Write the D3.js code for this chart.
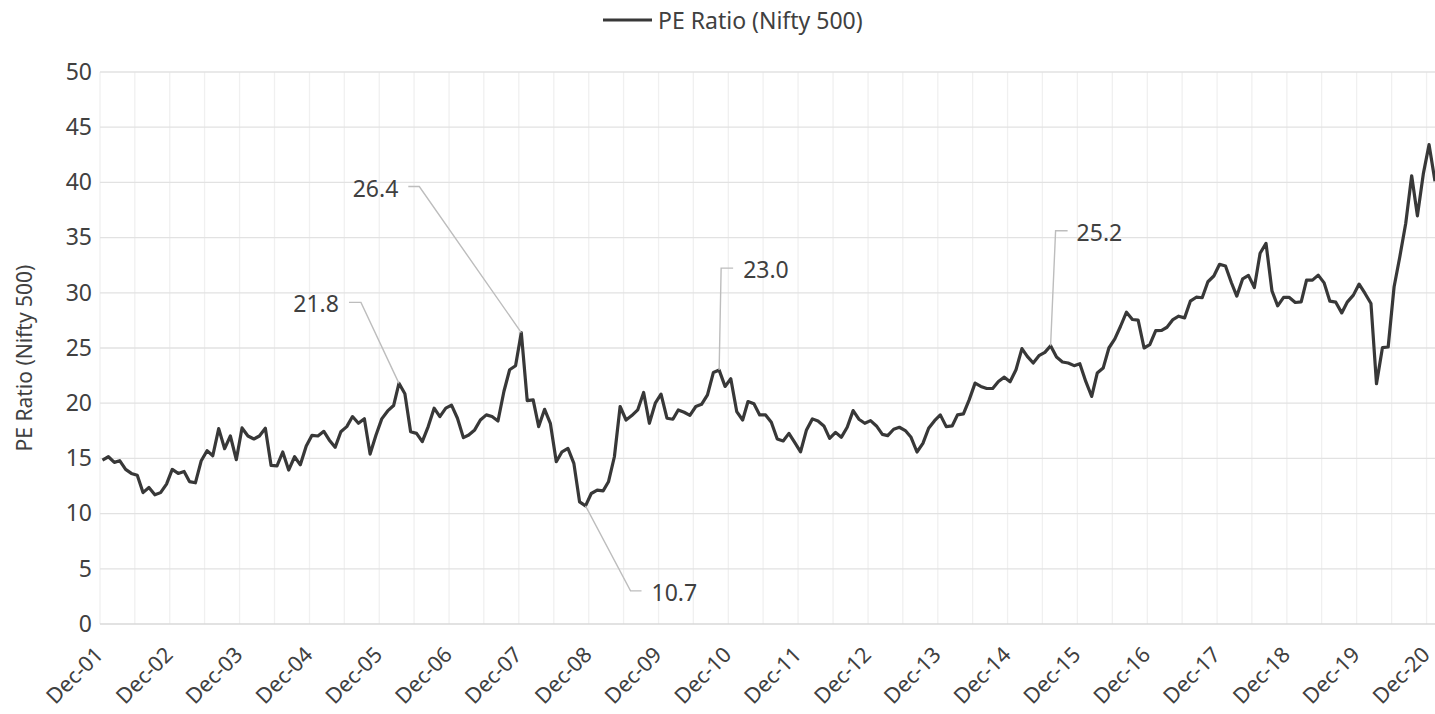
<!DOCTYPE html>
<html>
<head>
<meta charset="utf-8">
<script src="https://cdn.jsdelivr.net/npm/d3@7"></script>
<style>
  html, body { margin: 0; padding: 0; background: #ffffff; }
  svg { display: block; }
  text { font-family: "Noto Sans", "Open Sans", sans-serif; fill: #404040; }
</style>
</head>
<body>
<svg id="chart" width="1435" height="714"></svg>
<script>
// ---------------- data ----------------
const seriesName = "PE Ratio (Nifty 500)";
const firstMonth = { year: 2001, month: 11 }; // Dec-2001 (month index 0-based)
// monthly PE values, Dec-01 .. Jan-21
const peValues = [
  14.85, 15.15, 14.64, 14.79, 14.0, 13.64, 13.48, 11.9, 12.36, 11.7,
  11.9, 12.67, 14.0, 13.64, 13.82, 12.9, 12.79, 14.76, 15.7, 15.24,
  17.7, 15.88, 17.03, 14.88, 17.76, 17.03, 16.76, 17.03, 17.73, 14.36,
  14.33, 15.58, 13.94, 15.15, 14.42, 16.12, 17.09, 17.03, 17.45, 16.67,
  16.0, 17.42, 17.88, 18.79, 18.18, 18.6, 15.39, 17.12, 18.58, 19.3,
  19.79, 21.8, 20.85, 17.42, 17.27, 16.52, 17.88, 19.55, 18.79, 19.55,
  19.82, 18.64, 16.88, 17.12, 17.58, 18.48, 18.94, 18.79, 18.39, 21.06,
  23.03, 23.39, 26.4, 20.24, 20.3, 17.88, 19.45, 18.18, 14.7,
  15.6, 15.9, 14.55, 11.06, 10.7, 11.82, 12.12, 12.06, 12.88, 15.15,
  19.7, 18.48, 18.88, 19.39, 20.97, 18.18, 20.0, 20.82, 18.64, 18.55,
  19.39, 19.18, 18.9, 19.7, 19.9, 20.76, 22.79, 23.0, 21.52, 22.21,
  19.24, 18.48, 20.15, 19.94, 18.94, 18.94, 18.27, 16.76, 16.58, 17.27,
  16.42, 15.6, 17.58, 18.58, 18.39, 17.94, 16.82, 17.36, 16.91, 17.82,
  19.33, 18.55, 18.18, 18.42, 17.94, 17.18, 17.06, 17.64, 17.82, 17.52,
  16.91, 15.58, 16.36, 17.73, 18.42, 18.94, 17.88, 17.94, 18.94, 19.03,
  20.3, 21.82, 21.52, 21.33, 21.33, 21.97, 22.36, 21.94, 23.03,
  24.94, 24.24, 23.64, 24.3, 24.6, 25.2, 24.18, 23.73, 23.64, 23.4,
  23.58, 21.97, 20.61, 22.73, 23.18, 25.0, 25.82, 26.97, 28.24, 27.58,
  27.52, 25.0, 25.3, 26.58, 26.6, 26.88, 27.58, 27.88, 27.73, 29.24,
  29.6, 29.55, 31.0, 31.52, 32.58, 32.42, 30.91, 29.7, 31.27, 31.58,
  30.48, 33.58, 34.48, 30.18, 28.82, 29.58, 29.58, 29.12, 29.18, 31.15,
  31.15, 31.6, 30.9, 29.24, 29.15, 28.18, 29.18, 29.79, 30.79, 29.94,
  29.03, 21.76, 25.03, 25.09, 30.55, 33.27, 36.3, 40.6, 36.97, 40.79,
  43.42, 40.1
];
const xTickLabels = ["Dec-01","Dec-02","Dec-03","Dec-04","Dec-05","Dec-06","Dec-07","Dec-08","Dec-09","Dec-10",
                     "Dec-11","Dec-12","Dec-13","Dec-14","Dec-15","Dec-16","Dec-17","Dec-18","Dec-19","Dec-20"];
const yTicks = [0, 5, 10, 15, 20, 25, 30, 35, 40, 45, 50];
// annotated points (month index from Dec-01) and their labels
const annotIndex = [51, 72, 83, 106, 163];
const annotText  = ["21.8", "26.4", "10.7", "23.0", "25.2"];

// ---------------- layout ----------------
const plot = { left: 100, right: 1435, top: 72, bottom: 624 };
const svg = d3.select("#chart");

const monthDate = i => new Date(firstMonth.year, firstMonth.month + i, 14);
const tickDate = i => new Date(firstMonth.year + i, firstMonth.month, 1);

const x = d3.scaleTime()
  .domain([new Date(2001, 11, 1), new Date(2021, 0, 14)])
  .range([plot.left, plot.right]);
const y = d3.scaleLinear().domain([0, 50]).range([plot.bottom, plot.top]);

// vertical gridlines every 6 months (Dec and Jun)
const gridDates = d3.range(0, 39).map(k => new Date(firstMonth.year, firstMonth.month + 6 * k, 1));
svg.append("g").selectAll("line").data(gridDates).join("line")
  .attr("x1", d => x(d)).attr("x2", d => x(d))
  .attr("y1", plot.top).attr("y2", plot.bottom)
  .attr("stroke", "#f0f0f0").attr("stroke-width", 1.3);

// horizontal gridlines
svg.append("g").selectAll("line").data(yTicks).join("line")
  .attr("x1", plot.left).attr("x2", plot.right)
  .attr("y1", d => y(d)).attr("y2", d => y(d))
  .attr("stroke", d => d === 0 ? "#d9d9d9" : "#e2e2e2").attr("stroke-width", 1.3);

// y axis labels
const yAxis = d3.axisLeft(y).tickValues(yTicks).tickSize(0).tickPadding(8);
const gy = svg.append("g").attr("transform", `translate(${plot.left},0)`).call(yAxis);
gy.select(".domain").remove();
gy.selectAll("text").style("font-size", "23px").style("font-family", "Noto Sans").attr("fill", "#404040");

// x axis labels
const xAxis = d3.axisBottom(x)
  .tickValues(xTickLabels.map((_, i) => tickDate(i)))
  .tickFormat((d, i) => xTickLabels[i]).tickSize(0);
const gx = svg.append("g").attr("transform", `translate(0,${plot.bottom})`).call(xAxis);
gx.select(".domain").remove();
gx.selectAll("text")
  .style("font-size", "21.5px").style("font-family", "Noto Sans").attr("fill", "#404040")
  .attr("text-anchor", "end")
  .attr("y", 0).attr("dy", "0")
  .attr("transform", "translate(4,32) rotate(-45)");

// line
const pts = peValues.map((v, i) => ({ d: monthDate(i), v }));
const line = d3.line().x(p => x(p.d)).y(p => y(p.v));
svg.append("path").datum(pts)
  .attr("d", line).attr("fill", "none")
  .attr("stroke", "#383838").attr("stroke-width", 3.2)
  .attr("stroke-linejoin", "round");

// annotations: label offsets (layout) relative to the point
const annotLayout = [
  { elbow: [-38, -81], hook: [-50, -81], anchor: "end",   textAt: [-60, -79] },
  { elbow: [-102, -146], hook: [-113, -146], anchor: "end", textAt: [-123, -144] },
  { elbow: [45, 85], hook: [56, 85], anchor: "start", textAt: [66, 87] },
  { elbow: [2, -102], hook: [14, -102], anchor: "start", textAt: [24, -100] },
  { elbow: [5, -115], hook: [17, -115], anchor: "start", textAt: [26, -113] }
];
const ag = svg.append("g");
annotIndex.forEach((idx, k) => {
  const px = x(monthDate(idx)), py = y(peValues[idx]);
  const L = annotLayout[k];
  ag.append("polyline")
    .attr("points", [[px, py], [px + L.elbow[0], py + L.elbow[1]], [px + L.hook[0], py + L.hook[1]]].map(p => p.join(",")).join(" "))
    .attr("fill", "none").attr("stroke", "#bdbdbd").attr("stroke-width", 1.4);
  ag.append("text")
    .attr("x", px + L.textAt[0]).attr("y", py + L.textAt[1])
    .attr("dy", "0.35em")
    .attr("text-anchor", L.anchor)
    .style("font-size", "23px")
    .text(annotText[k]);
});

// legend
const lg = svg.append("g");
lg.append("line").attr("x1", 603).attr("x2", 652).attr("y1", 20).attr("y2", 20)
  .attr("stroke", "#383838").attr("stroke-width", 3.2);
lg.append("text").attr("x", 658).attr("y", 21).attr("dy", "0.35em")
  .style("font-size", "23px").text(seriesName);

// y axis title
svg.append("text")
  .attr("transform", `translate(25,${(plot.top + plot.bottom) / 2 + 10}) rotate(-90)`)
  .attr("text-anchor", "middle").attr("dy", "0.35em")
  .style("font-size", "21px")
  .text(seriesName);
</script>
</body>
</html>
